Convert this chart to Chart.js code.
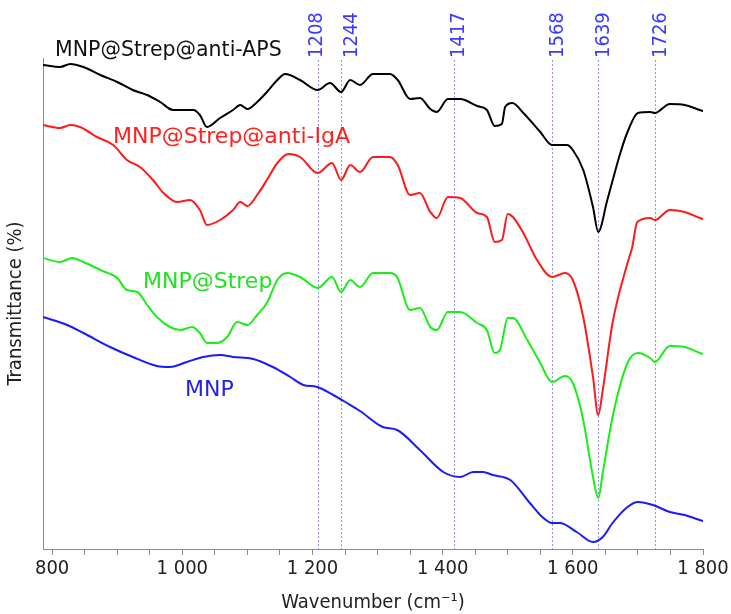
<!DOCTYPE html>
<html>
<head>
<meta charset="utf-8">
<title>FTIR spectra</title>
<script src="https://cdn.jsdelivr.net/npm/chart.js@4.4.1/dist/chart.umd.min.js"></script>
<style>
  html, body { margin: 0; padding: 0; background: #fff; }
  #wrap { position: relative; width: 731px; height: 614px; }
</style>
</head>
<body>
<div id="wrap"><canvas id="myChart"></canvas></div>
<script>
// wavenumber (cm-1) / transmittance (arbitrary, offset units)
const apsWn = [786, 812, 828, 848, 874, 900, 924, 946, 966, 986, 1007, 1017, 1027, 1038, 1058, 1078, 1089, 1100, 1115, 1130, 1146, 1158, 1181, 1208, 1227, 1244, 1258, 1273, 1293, 1319, 1331, 1350, 1365, 1381, 1391, 1408, 1427, 1453, 1468, 1480, 1491, 1496, 1507, 1524, 1550, 1568, 1591, 1600, 1616, 1631, 1639, 1653, 1673, 1684, 1700, 1719, 1726, 1749, 1772, 1795, 1800];
const apsT = [483, 481, 484, 481, 473, 466, 458, 453, 446, 438, 438, 438, 433, 421, 430, 438, 443, 439, 446, 456, 468, 474, 468, 458, 465, 456, 468, 463, 474, 474, 468, 449, 450, 439, 436, 449, 449, 442, 438, 422, 424, 441, 445, 435, 416, 403, 403, 398, 378, 341, 316, 348, 395, 416, 435, 436, 435, 444, 443, 438, 437];

const igaWn = [786, 812, 828, 843, 869, 894, 915, 935, 955, 971, 992, 1012, 1027, 1038, 1058, 1078, 1089, 1100, 1115, 1130, 1146, 1163, 1181, 1208, 1230, 1244, 1258, 1273, 1293, 1319, 1331, 1350, 1365, 1381, 1391, 1408, 1427, 1453, 1468, 1480, 1491, 1500, 1508, 1524, 1545, 1568, 1588, 1600, 1616, 1631, 1639, 1646, 1661, 1684, 1691, 1699, 1719, 1726, 1749, 1772, 1795, 1800];
const igaT = [423, 420, 423, 421, 411, 403, 388, 381, 368, 355, 346, 348, 338, 323, 328, 338, 346, 342, 353, 368, 385, 394, 391, 375, 385, 368, 383, 376, 391, 391, 383, 353, 355, 336, 330, 351, 350, 335, 331, 306, 308, 334, 331, 315, 288, 271, 275, 268, 231, 171, 133, 158, 225, 285, 300, 326, 330, 328, 338, 336, 330, 329];

const strepWn = [786, 812, 831, 848, 874, 900, 915, 931, 946, 961, 981, 997, 1015, 1027, 1038, 1053, 1069, 1084, 1100, 1115, 1130, 1146, 1161, 1181, 1208, 1230, 1244, 1258, 1273, 1293, 1319, 1330, 1350, 1365, 1381, 1391, 1408, 1427, 1453, 1468, 1480, 1488, 1500, 1508, 1530, 1550, 1568, 1588, 1600, 1616, 1631, 1639, 1646, 1661, 1684, 1700, 1719, 1726, 1749, 1772, 1795, 1800];
const strepT = [290, 286, 290, 286, 278, 270, 258, 256, 243, 231, 221, 218, 221, 215, 205, 205, 211, 226, 223, 233, 245, 268, 275, 271, 260, 271, 256, 268, 261, 275, 275, 271, 238, 240, 221, 218, 236, 236, 225, 218, 195, 198, 230, 230, 208, 185, 166, 172, 165, 128, 71, 50, 75, 131, 185, 195, 190, 186, 202, 201, 195, 194];

const mnpWn = [786, 823, 848, 889, 924, 961, 981, 1007, 1032, 1058, 1078, 1109, 1139, 1166, 1186, 1207, 1232, 1253, 1273, 1308, 1330, 1365, 1401, 1427, 1447, 1462, 1477, 1504, 1534, 1553, 1568, 1580, 1606, 1631, 1646, 1661, 1684, 1700, 1723, 1749, 1772, 1795, 1800];
const mnpT = [231, 223, 215, 201, 191, 182, 181, 186, 191, 193, 191, 189, 181, 171, 163, 161, 153, 145, 137, 121, 118, 98, 76, 71, 76, 76, 73, 68, 45, 31, 25, 25, 16, 6, 11, 25, 41, 46, 43, 36, 33, 28, 27];

const peakLines = [1208, 1244, 1417, 1568, 1639, 1726];
const tickLabels = [800, 1000, 1200, 1400, 1600, 1800];

const FONT = "'DejaVu Sans Condensed', 'DejaVu Sans', sans-serif";
const LABEL_FONT = "'DejaVu Sans', sans-serif";
const AXIS_GREY = '#8c8c8c';

const toPoints = (wn, t) => wn.map((x, i) => ({ x: x, y: t[i] }));

const fmt = (v) => (v >= 1000 ? String(v).replace(/(\d)(\d{3})$/, '$1 $2') : String(v));

// peak label text: baseline offset from its dotted line (px)
const peakLabelShift = [4, 16, 10, 11, 11, 11];

const curveLabels = [
  { text: 'MNP@Strep@anti-APS', x: 55, y: 56, size: 20.5, color: '#111111' },
  { text: 'MNP@Strep@anti-IgA', x: 113, y: 143, size: 22, color: '#ff2020' },
  { text: 'MNP@Strep', x: 143, y: 288, size: 22, color: '#22e022' },
  { text: 'MNP', x: 185, y: 396, size: 22, color: '#2222e6' },
];

const annotations = {
  id: 'annotations',
  beforeDatasetsDraw(chart) {
    const { ctx, chartArea, scales: { x } } = chart;
    ctx.save();
    ctx.strokeStyle = 'rgba(100,100,255,0.7)';
    ctx.lineWidth = 1;
    ctx.setLineDash([2, 2]);
    peakLines.forEach((p) => {
      const px = Math.round(x.getPixelForValue(p)) + 0.5;
      ctx.beginPath();
      ctx.moveTo(px, 60);
      ctx.lineTo(px, chartArea.bottom);
      ctx.stroke();
    });
    ctx.restore();
  },
  afterDraw(chart) {
    const { ctx, scales: { x } } = chart;
    ctx.save();
    ctx.font = '20px ' + FONT;
    ctx.textAlign = 'left';
    ctx.textBaseline = 'alphabetic';
    ctx.fillStyle = '#3b3bff';
    peakLines.forEach((p, i) => {
      const px = x.getPixelForValue(p);
      ctx.save();
      ctx.translate(px + peakLabelShift[i], 58);
      ctx.rotate(-Math.PI / 2);
      ctx.fillText(String(p), 0, 0);
      ctx.restore();
    });
    curveLabels.forEach((l) => {
      ctx.font = l.size + 'px ' + LABEL_FONT;
      ctx.fillStyle = l.color;
      ctx.fillText(l.text, l.x, l.y);
    });
    ctx.restore();
  },
};

const ctx = document.getElementById('myChart');

new Chart(ctx, {
  type: 'line',
  data: {
    datasets: [
      { label: 'MNP@Strep@anti-APS', data: toPoints(apsWn, apsT), borderColor: '#000000' },
      { label: 'MNP@Strep@anti-IgA', data: toPoints(igaWn, igaT), borderColor: '#ff1a1a' },
      { label: 'MNP@Strep', data: toPoints(strepWn, strepT), borderColor: '#1aee1a' },
      { label: 'MNP', data: toPoints(mnpWn, mnpT), borderColor: '#1a1aff' },
    ],
  },
  options: {
    responsive: true,
    maintainAspectRatio: false,
    animation: false,
    layout: { padding: { left: 0, right: 28, top: 58, bottom: 0 } },
    elements: {
      point: { radius: 0 },
      line: { borderWidth: 2, cubicInterpolationMode: 'monotone' },
    },
    plugins: {
      legend: { display: false },
      tooltip: { enabled: false },
    },
    scales: {
      x: {
        type: 'linear',
        min: 786,
        max: 1800,
        afterBuildTicks: (scale) => {
          const t = [];
          for (let v = 800; v <= 1800; v += 50) t.push({ value: v });
          scale.ticks = t;
        },
        afterFit: (scale) => {
          scale.height = 65;
          scale.paddingLeft = 0;
          scale.paddingRight = 0;
        },
        ticks: {
          autoSkip: false,
          maxRotation: 0,
          padding: 2,
          color: '#222',
          font: { family: FONT, size: 20 },
          callback: (v) => (tickLabels.includes(v) ? fmt(v) : ''),
        },
        grid: {
          display: true,
          drawOnChartArea: false,
          drawTicks: true,
          tickLength: 6,
          tickColor: AXIS_GREY,
        },
        border: { display: true, color: AXIS_GREY, width: 1 },
        title: {
          display: true,
          text: 'Wavenumber (cm⁻¹)',
          color: '#222',
          font: { family: FONT, size: 20 },
          padding: { top: 0, bottom: -1 },
        },
      },
      y: {
        type: 'linear',
        min: -1,
        max: 490,
        afterFit: (scale) => {
          scale.width = 43;
        },
        ticks: { display: false },
        grid: { display: false },
        border: { display: true, color: AXIS_GREY, width: 1 },
        title: {
          display: true,
          text: 'Transmittance (%)',
          color: '#222',
          font: { family: FONT, size: 20 },
          padding: { top: 4, bottom: 0 },
        },
      },
    },
  },
  plugins: [annotations],
});
</script>
</body>
</html>
